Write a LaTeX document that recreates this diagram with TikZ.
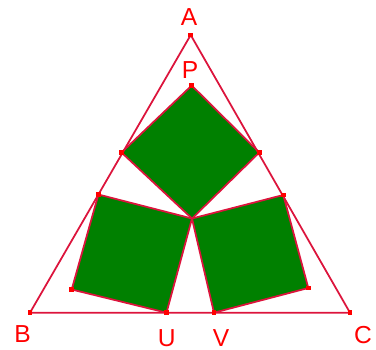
\documentclass[tikz,border=0pt]{standalone}
\usepackage{fontspec}
\setmainfont{Liberation Sans}
\usepackage{xcolor}
\usepackage{tikz}
\usetikzlibrary{positioning}
\definecolor{edgered}{RGB}{220,20,60}
\definecolor{ptred}{RGB}{255,0,0}
\definecolor{sqgreen}{RGB}{0,128,0}
\tikzset{
  % --- points and labels -----------------------------------------------------
  pt/.style={rectangle,fill=ptred,inner sep=0pt,minimum size=0.095cm},
  ptlab/.style={text=ptred,font=\fontsize{14}{16}\selectfont,inner sep=0pt},
  % --- shapes ----------------------------------------------------------------
  sq/.style={fill=sqgreen,draw=edgered,line width=1pt,line join=round},
  tri/.style={draw=edgered,line width=1pt,line join=round},
}
\begin{document}
\begin{tikzpicture}[x=0.02cm,y=-0.02cm]
  \useasboundingbox (0,0) rectangle (376,349);
  % vertices
  \coordinate (A) at (190.7,35);
  \coordinate (B) at (30,312.7);
  \coordinate (C) at (350,312.7);
  \coordinate (O) at (192,218.5);
  \coordinate (P) at (191.7,85.5);
  \coordinate (D) at (121.5,152.5);
  \coordinate (E) at (259.3,152.5);
  \coordinate (F) at (98.4,194.5);
  \coordinate (G) at (283.3,195);
  \coordinate (H) at (71.7,289.5);
  \coordinate (K) at (308.3,288);
  \coordinate (U) at (166.5,312.7);
  \coordinate (V) at (214,312.7);
  % squares
  \draw[sq] (O) -- (E) -- (P) -- (D) -- cycle;
  \draw[sq] (O) -- (F) -- (H) -- (U) -- cycle;
  \draw[sq] (O) -- (G) -- (K) -- (V) -- cycle;
  % triangle
  \draw[tri] (A) -- (B) -- (C) -- cycle;
  \foreach \p in {A,B,C,P,D,E,F,G,H,K,U,V} \node[pt] (m\p) at (\p) {};
  % labels
  \node[ptlab] (lA) at (189,17) {A};
  \node[ptlab] (lP) at (190,70) {P};
  \node[ptlab] (lB) at (22.7,334) {B};
  \node[ptlab] (lU) at (166.7,337.7) {U};
  \node[ptlab] (lV) at (221,337.7) {V};
  \node[ptlab] (lC) at (363,335) {C};
\end{tikzpicture}
\end{document}
